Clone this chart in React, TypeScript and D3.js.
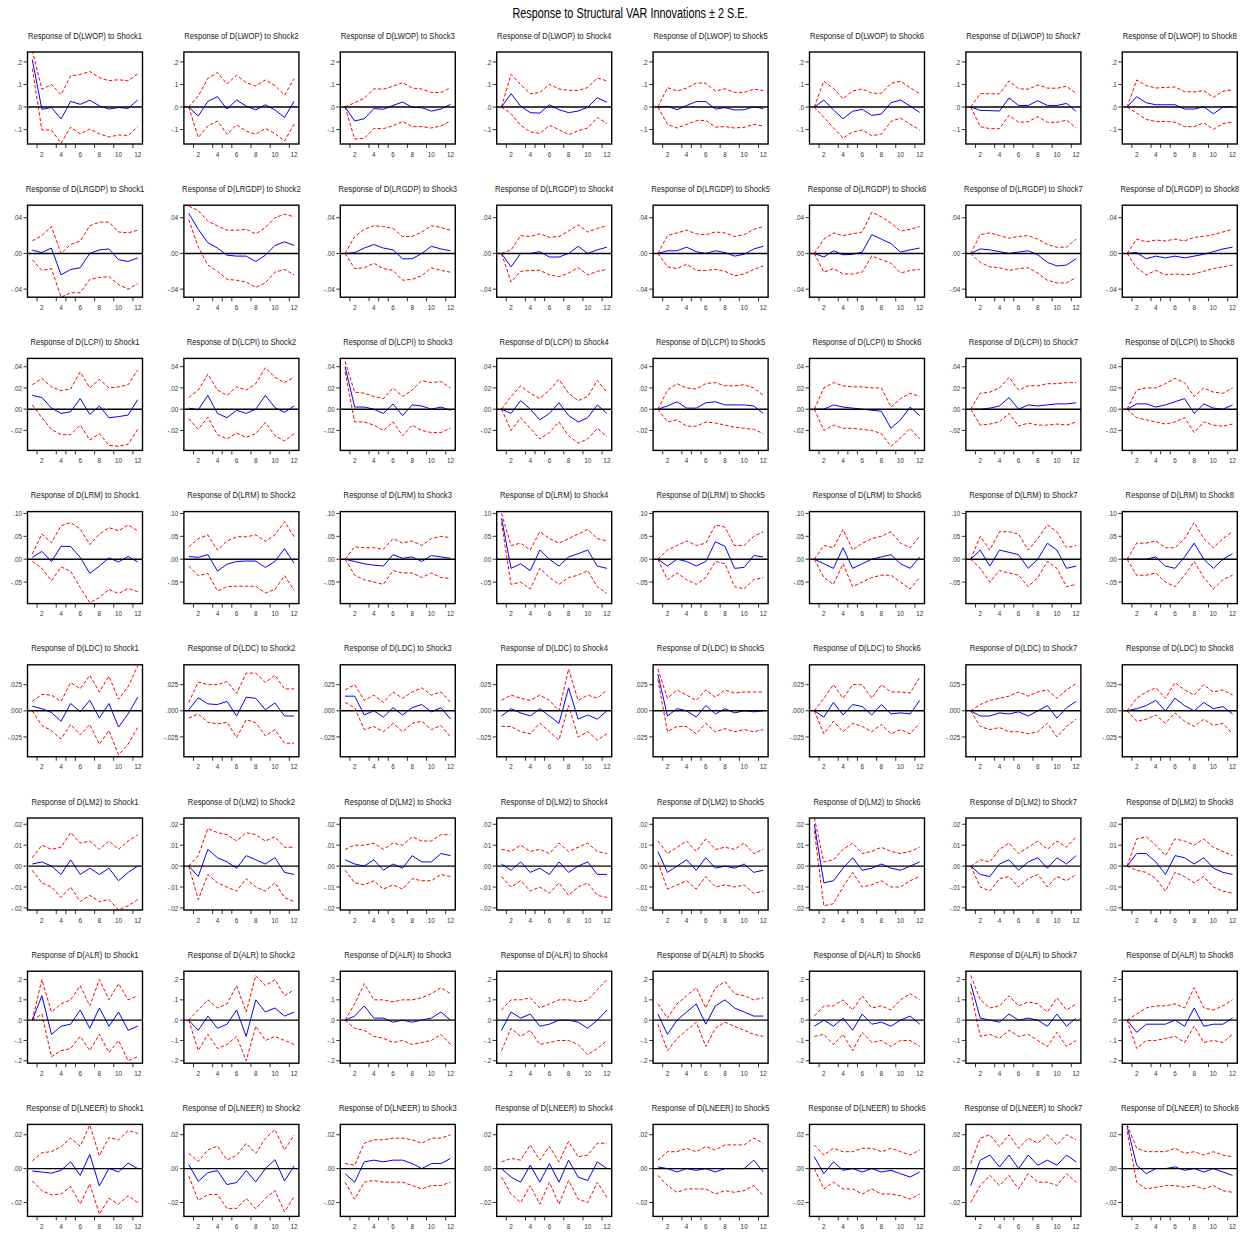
import React from "react";
import * as d3 from "d3";

// impulse response horizons and labels
const periods = [1, 2, 3, 4, 5, 6, 7, 8, 9, 10, 11, 12];
const xTickLabels = [2, 4, 6, 8, 10, 12];
const xMinorTicks = [1.5, 3.5, 4.5, 5.5, 7.5, 9.5, 11.5];
const shocks = ["Shock1", "Shock2", "Shock3", "Shock4", "Shock5", "Shock6", "Shock7", "Shock8"];
const variables = ["LWOP", "LRGDP", "LCPI", "LRM", "LDC", "LM2", "ALR", "LNEER"];

// y tick values per response variable
const lwopTicks = [-0.1, 0, 0.1, 0.2];
const lrgdpTicks = [-0.04, 0, 0.04];
const lcpiTicks = [-0.02, 0, 0.02, 0.04];
const lrmTicks = [-0.05, 0, 0.05, 0.1];
const ldcTicks = [-0.025, 0, 0.025];
const lm2Ticks = [-0.02, -0.01, 0, 0.01, 0.02];
const alrTicks = [-0.2, -0.1, 0, 0.1, 0.2];
const lneerTicks = [-0.02, 0, 0.02];

// responses (one row per shock), upper and lower 2 S.E. bands
const lwopMid = [
  [0.21, -0.01, -0.002, -0.053, 0.025, 0.012, 0.03, 0.005, -0.009, -0.002, -0.006, 0.031],
  [0, -0.04, 0.025, 0.046, -0.009, 0.031, 0.004, -0.013, 0.01, -0.013, -0.046, 0.025],
  [0, -0.062, -0.052, -0.007, -0.01, 0.007, 0.022, -0.001, -0.003, -0.018, -0.009, 0.012],
  [0, 0.059, 0.004, -0.025, -0.027, 0.01, -0.012, -0.025, -0.018, -0.001, 0.041, 0.021],
  [0, 0.003, -0.012, 0.007, 0.024, 0.024, -0.009, -0.003, -0.013, -0.012, 0.001, -0.007],
  [0, 0.031, -0.013, -0.052, -0.019, -0.01, -0.037, -0.031, 0.019, 0.031, 0.004, -0.024],
  [0, -0.015, -0.016, -0.018, 0.04, 0.007, 0.007, 0.028, 0.007, 0.007, 0.016, -0.019],
  [0, 0.046, 0.019, 0.01, 0.01, 0.01, -0.009, -0.009, 0.001, -0.03, -0.001, 0.003],
];
const lwopHi = [
  [0.25, 0.079, 0.1, 0.055, 0.138, 0.144, 0.158, 0.13, 0.117, 0.121, 0.116, 0.147],
  [0, 0.049, 0.127, 0.153, 0.102, 0.141, 0.108, 0.093, 0.12, 0.095, 0.053, 0.126],
  [0, 0.019, 0.039, 0.081, 0.079, 0.092, 0.108, 0.084, 0.08, 0.065, 0.064, 0.086],
  [0, 0.145, 0.099, 0.059, 0.064, 0.101, 0.08, 0.074, 0.074, 0.086, 0.129, 0.116],
  [0, 0.086, 0.071, 0.084, 0.107, 0.105, 0.071, 0.081, 0.065, 0.065, 0.079, 0.073],
  [0, 0.114, 0.083, 0.037, 0.071, 0.08, 0.061, 0.061, 0.105, 0.114, 0.086, 0.058],
  [0, 0.059, 0.059, 0.058, 0.116, 0.081, 0.079, 0.098, 0.084, 0.083, 0.092, 0.061],
  [0, 0.12, 0.095, 0.084, 0.087, 0.089, 0.068, 0.067, 0.073, 0.043, 0.07, 0.076],
];
const lwopLo = [
  [0.17, -0.102, -0.102, -0.161, -0.089, -0.119, -0.098, -0.119, -0.133, -0.124, -0.126, -0.087],
  [0, -0.135, -0.084, -0.062, -0.121, -0.079, -0.107, -0.121, -0.095, -0.117, -0.151, -0.076],
  [0, -0.142, -0.139, -0.095, -0.096, -0.083, -0.064, -0.087, -0.087, -0.093, -0.084, -0.062],
  [0, -0.03, -0.081, -0.11, -0.117, -0.081, -0.1, -0.123, -0.105, -0.093, -0.046, -0.073],
  [0, -0.077, -0.093, -0.077, -0.061, -0.059, -0.089, -0.087, -0.093, -0.09, -0.077, -0.084],
  [0, -0.046, -0.092, -0.138, -0.111, -0.102, -0.127, -0.12, -0.064, -0.049, -0.076, -0.102],
  [0, -0.087, -0.096, -0.096, -0.037, -0.068, -0.065, -0.043, -0.068, -0.068, -0.058, -0.093],
  [0, -0.027, -0.055, -0.064, -0.064, -0.067, -0.087, -0.087, -0.07, -0.099, -0.073, -0.067],
];

const lrgdpMid = [
  [0.0037, 0.001, 0.006, -0.024, -0.018, -0.016, 0.0, 0.004, 0.005, -0.007, -0.009, -0.005],
  [0.045, 0.027, 0.012, 0.006, -0.002, -0.003, -0.003, -0.009, -0.002, 0.009, 0.013, 0.009],
  [0, 0.001, 0.006, 0.01, 0.006, 0.004, -0.006, -0.006, 0.0, 0.008, 0.005, 0.003],
  [0, -0.015, 0, 0, 0.002, -0.004, -0.004, 0, 0.008, 0, 0.004, 0.007],
  [0, 0.003, 0.003, 0.007, 0.002, 0.0, 0.003, 0.001, -0.003, -0.001, 0.005, 0.008],
  [0, -0.004, 0.003, -0.0015, -0.001, 0.0015, 0.021, 0.016, 0.011, 0.0015, 0.004, 0.006],
  [0, 0.005, 0.004, 0.002, 0, 0.0015, 0.003, -0.0015, -0.01, -0.014, -0.013, -0.006],
  [0, 0.001, -0.006, -0.003, -0.005, -0.003, -0.005, -0.003, -0.001, 0.002, 0.005, 0.007],
];
const lrgdpHi = [
  [0.014, 0.02, 0.03, 0.0, 0.01, 0.014, 0.031, 0.035, 0.035, 0.024, 0.023, 0.026],
  [0.053, 0.048, 0.036, 0.031, 0.026, 0.026, 0.027, 0.022, 0.029, 0.04, 0.044, 0.041],
  [0, 0.019, 0.027, 0.031, 0.03, 0.028, 0.019, 0.019, 0.024, 0.031, 0.029, 0.026],
  [0, 0.004, 0.02, 0.019, 0.022, 0.018, 0.019, 0.025, 0.032, 0.024, 0.028, 0.031],
  [0, 0.02, 0.023, 0.026, 0.022, 0.021, 0.024, 0.023, 0.019, 0.021, 0.027, 0.03],
  [0, 0.016, 0.023, 0.02, 0.022, 0.024, 0.046, 0.041, 0.034, 0.025, 0.027, 0.03],
  [0, 0.021, 0.023, 0.02, 0.017, 0.019, 0.02, 0.016, 0.01, 0.007, 0.007, 0.016],
  [0, 0.016, 0.013, 0.015, 0.014, 0.016, 0.014, 0.018, 0.019, 0.021, 0.024, 0.027],
];
const lrgdpLo = [
  [-0.007, -0.019, -0.017, -0.049, -0.044, -0.044, -0.029, -0.027, -0.026, -0.035, -0.04, -0.034],
  [0.038, 0.007, -0.013, -0.02, -0.029, -0.03, -0.032, -0.038, -0.033, -0.021, -0.018, -0.024],
  [0, -0.017, -0.016, -0.011, -0.017, -0.019, -0.03, -0.029, -0.025, -0.016, -0.019, -0.021],
  [0, -0.032, -0.02, -0.019, -0.019, -0.024, -0.026, -0.022, -0.016, -0.024, -0.02, -0.018],
  [0, -0.015, -0.017, -0.012, -0.019, -0.019, -0.018, -0.02, -0.025, -0.023, -0.018, -0.014],
  [0, -0.021, -0.017, -0.023, -0.023, -0.021, -0.003, -0.007, -0.011, -0.022, -0.019, -0.018],
  [0, -0.01, -0.015, -0.016, -0.019, -0.017, -0.016, -0.022, -0.03, -0.033, -0.033, -0.027],
  [0, -0.016, -0.024, -0.019, -0.024, -0.023, -0.024, -0.023, -0.02, -0.017, -0.015, -0.013],
];

const lcpiMid = [
  [0.013, 0.011, 0.001, -0.004, -0.0025, 0.01, -0.005, 0.003, -0.008, -0.007, -0.0055, 0.009],
  [0.001, -0.0006, 0.013, -0.004, -0.008, -0.001, -0.004, 0, 0.013, 0.0015, -0.003, 0.003],
  [0.04, 0.002, 0.002, 0.0, -0.004, 0.005, -0.006, 0.004, 0.003, 0.0, 0.002, -0.001],
  [0, -0.004, 0.008, 0.0, -0.01, -0.004, 0.006, -0.006, -0.012, -0.008, 0.004, -0.004],
  [0, 0.003, 0.007, 0.001, 0.001, 0.006, 0.007, 0.004, 0.004, 0.004, 0.003, -0.004],
  [0, 0.0, 0.004, 0.002, 0.001, 0.0, -0.001, -0.002, -0.018, -0.01, 0.002, -0.006],
  [0, 0.0, 0.001, 0.003, 0.011, 0.0, 0.004, 0.003, 0.004, 0.005, 0.005, 0.006],
  [0, 0.005, 0.005, 0.002, 0.004, 0.007, 0.01, -0.004, 0.005, 0.001, 0.0, 0.004],
];
const lcpiHi = [
  [0.023, 0.029, 0.021, 0.0175, 0.019, 0.035, 0.02, 0.028, 0.02, 0.021, 0.023, 0.037],
  [0.011, 0.018, 0.033, 0.018, 0.013, 0.021, 0.018, 0.024, 0.039, 0.03, 0.025, 0.03],
  [0.045, 0.016, 0.015, 0.012, 0.01, 0.02, 0.012, 0.018, 0.027, 0.025, 0.026, 0.02],
  [0, 0.012, 0.022, 0.015, 0.01, 0.018, 0.028, 0.015, 0.008, 0.012, 0.027, 0.016],
  [0, 0.018, 0.024, 0.02, 0.019, 0.024, 0.025, 0.022, 0.022, 0.023, 0.02, 0.013],
  [0, 0.02, 0.025, 0.022, 0.021, 0.021, 0.02, 0.02, 0.002, 0.01, 0.015, 0.012],
  [0, 0.015, 0.016, 0.02, 0.03, 0.018, 0.022, 0.022, 0.024, 0.024, 0.025, 0.025],
  [0, 0.018, 0.02, 0.02, 0.024, 0.029, 0.025, 0.012, 0.02, 0.016, 0.015, 0.02],
];
const lcpiLo = [
  [0.004, -0.008, -0.019, -0.024, -0.024, -0.015, -0.029, -0.023, -0.034, -0.035, -0.033, -0.019],
  [-0.009, -0.019, -0.0075, -0.024, -0.028, -0.0225, -0.0265, -0.023, -0.0125, -0.025, -0.03, -0.023],
  [0.035, -0.012, -0.012, -0.015, -0.02, -0.012, -0.025, -0.015, -0.02, -0.022, -0.022, -0.018],
  [0, -0.02, -0.008, -0.018, -0.028, -0.022, -0.012, -0.025, -0.032, -0.028, -0.018, -0.026],
  [0, -0.012, -0.01, -0.016, -0.016, -0.012, -0.013, -0.015, -0.017, -0.018, -0.019, -0.023],
  [0, -0.02, -0.015, -0.018, -0.018, -0.019, -0.02, -0.023, -0.035, -0.027, -0.018, -0.028],
  [0, -0.015, -0.014, -0.012, -0.004, -0.016, -0.013, -0.015, -0.015, -0.014, -0.015, -0.012],
  [0, -0.008, -0.01, -0.012, -0.014, -0.012, -0.008, -0.022, -0.012, -0.015, -0.016, -0.014],
];

const lrmMid = [
  [0.004, 0.017, -0.005, 0.028, 0.028, 0.004, -0.031, -0.015, 0.003, -0.006, 0.006, -0.006],
  [0.006, 0.004, 0.01, -0.026, -0.011, -0.005, -0.004, -0.004, -0.018, -0.005, 0.023, -0.009],
  [0, -0.005, -0.01, -0.013, -0.015, 0.01, 0.002, 0.005, -0.005, 0.008, 0.005, 0.002],
  [0.09, -0.02, -0.01, -0.025, 0.02, 0.0, -0.015, 0.005, 0.012, 0.02, -0.015, -0.02],
  [0, -0.015, 0.0, -0.005, -0.015, -0.005, 0.038, 0.028, -0.02, -0.018, 0.008, 0.005],
  [0, -0.01, -0.02, 0.025, -0.02, -0.01, 0.0, 0.005, 0.01, -0.01, -0.02, 0.005],
  [0, 0.02, -0.015, 0.02, 0.015, 0.01, -0.02, 0.0, 0.035, 0.02, -0.02, -0.015],
  [0, 0.0, 0.0, 0.005, -0.015, -0.02, 0.005, 0.035, 0.0, -0.02, 0.0, 0.012],
];
const lrmHi = [
  [0.011, 0.055, 0.036, 0.073, 0.08, 0.066, 0.032, 0.055, 0.069, 0.062, 0.075, 0.062],
  [0.027, 0.045, 0.053, 0.02, 0.04, 0.049, 0.049, 0.053, 0.039, 0.053, 0.082, 0.049],
  [0, 0.027, 0.025, 0.025, 0.022, 0.045, 0.035, 0.04, 0.03, 0.045, 0.05, 0.047],
  [0.1, 0.03, 0.035, 0.02, 0.06, 0.045, 0.035, 0.045, 0.055, 0.065, 0.045, 0.04],
  [0, 0.02, 0.03, 0.04, 0.03, 0.035, 0.075, 0.07, 0.03, 0.03, 0.05, 0.06],
  [0, 0.03, 0.025, 0.065, 0.02, 0.035, 0.045, 0.05, 0.06, 0.035, 0.025, 0.05],
  [0, 0.05, 0.02, 0.06, 0.06, 0.055, 0.02, 0.045, 0.075, 0.06, 0.025, 0.03],
  [0, 0.035, 0.035, 0.04, 0.025, 0.025, 0.045, 0.08, 0.045, 0.025, 0.045, 0.06],
];
const lrmLo = [
  [-0.005, -0.02, -0.047, -0.017, -0.026, -0.062, -0.095, -0.084, -0.066, -0.075, -0.064, -0.071],
  [-0.015, -0.036, -0.031, -0.069, -0.06, -0.059, -0.059, -0.059, -0.074, -0.066, -0.036, -0.068],
  [0, -0.035, -0.045, -0.05, -0.055, -0.025, -0.03, -0.03, -0.04, -0.03, -0.04, -0.042],
  [0.08, -0.055, -0.05, -0.065, -0.02, -0.04, -0.055, -0.04, -0.035, -0.025, -0.06, -0.075],
  [0, -0.045, -0.03, -0.045, -0.055, -0.04, -0.005, -0.01, -0.06, -0.065, -0.045, -0.04],
  [0, -0.04, -0.055, -0.01, -0.06, -0.05, -0.04, -0.035, -0.035, -0.05, -0.065, -0.04],
  [0, -0.02, -0.05, -0.025, -0.03, -0.035, -0.06, -0.04, -0.005, -0.02, -0.06, -0.055],
  [0, -0.035, -0.035, -0.03, -0.05, -0.06, -0.035, -0.005, -0.04, -0.065, -0.045, -0.035],
];

const ldcMid = [
  [0.0044, 0.002, -0.0016, -0.01, 0.007, -0.001, 0.01, -0.007, 0.007, -0.0156, -0.003, 0.013],
  [0.001, 0.0125, 0.0066, 0.006, 0.009, -0.005, 0.013, 0.012, 0.001, 0.0075, -0.005, -0.005],
  [0.014, 0.014, -0.004, 0.0, -0.006, 0.003, -0.004, 0.003, 0.006, -0.001, 0.003, -0.008],
  [-0.005, 0.002, -0.002, -0.005, 0.002, -0.005, -0.012, 0.022, -0.008, -0.004, -0.008, 0.0],
  [0.035, -0.005, 0.002, 0.0, -0.006, 0.005, -0.003, 0.002, -0.002, 0.0, -0.001, 0.0],
  [0, -0.006, 0.008, -0.004, 0.006, 0.004, -0.004, 0.006, -0.003, -0.002, -0.003, 0.01],
  [0, -0.005, -0.005, -0.002, -0.003, -0.001, -0.005, 0.0, 0.005, -0.007, 0.003, 0.009],
  [0, 0.002, 0.005, 0.01, 0.0, 0.012, 0.005, 0.0, 0.008, 0.002, 0.004, -0.003],
];
const ldcHi = [
  [0.009, 0.0156, 0.015, 0.009, 0.027, 0.021, 0.034, 0.018, 0.033, 0.011, 0.023, 0.043],
  [0.008, 0.0275, 0.025, 0.025, 0.028, 0.0165, 0.036, 0.036, 0.027, 0.034, 0.021, 0.021],
  [0.02, 0.025, 0.01, 0.015, 0.008, 0.018, 0.012, 0.018, 0.022, 0.015, 0.018, 0.008],
  [0.01, 0.015, 0.012, 0.01, 0.015, 0.01, 0.0, 0.04, 0.01, 0.015, 0.012, 0.02],
  [0.04, 0.012, 0.02, 0.015, 0.01, 0.02, 0.013, 0.02, 0.017, 0.018, 0.018, 0.018],
  [0, 0.012, 0.025, 0.012, 0.025, 0.025, 0.012, 0.025, 0.018, 0.018, 0.017, 0.032],
  [0, 0.006, 0.01, 0.012, 0.014, 0.018, 0.014, 0.018, 0.02, 0.012, 0.02, 0.026],
  [0, 0.012, 0.018, 0.022, 0.012, 0.027, 0.02, 0.015, 0.025, 0.018, 0.02, 0.015],
];
const ldcLo = [
  [0, -0.014, -0.019, -0.027, -0.013, -0.023, -0.013, -0.032, -0.019, -0.042, -0.032, -0.016],
  [-0.007, -0.003, -0.011, -0.0125, -0.011, -0.0256, -0.0085, -0.0115, -0.024, -0.018, -0.031, -0.031],
  [0.008, 0.003, -0.018, -0.015, -0.02, -0.012, -0.02, -0.012, -0.01, -0.018, -0.014, -0.025],
  [-0.015, -0.015, -0.02, -0.022, -0.012, -0.02, -0.028, 0.005, -0.025, -0.02, -0.028, -0.022],
  [0.03, -0.02, -0.015, -0.015, -0.022, -0.012, -0.02, -0.017, -0.02, -0.018, -0.02, -0.018],
  [0, -0.022, -0.01, -0.02, -0.012, -0.015, -0.02, -0.013, -0.022, -0.018, -0.022, -0.012],
  [0, -0.015, -0.018, -0.016, -0.02, -0.02, -0.022, -0.02, -0.012, -0.025, -0.015, -0.008],
  [0, -0.01, -0.008, -0.004, -0.012, -0.002, -0.01, -0.015, -0.008, -0.014, -0.012, -0.022],
];

const lm2Mid = [
  [0.001, 0.002, 0.0, -0.004, 0.003, -0.004, -0.001, -0.004, -0.001, -0.007, -0.003, 0.0],
  [0, -0.005, 0.008, 0.004, 0.002, -0.001, 0.005, 0.003, 0.001, 0.004, -0.003, -0.004],
  [0.003, 0.001, 0.0, 0.003, -0.002, 0.001, -0.001, 0.005, 0.002, 0.002, 0.006, 0.005],
  [0.001, -0.002, 0.002, -0.003, -0.001, -0.004, 0.002, -0.003, 0.0, 0.002, -0.004, -0.004],
  [0.007, -0.003, 0.0, 0.003, -0.002, 0.004, -0.001, 0.0, -0.001, 0.001, -0.003, -0.002],
  [0.02, -0.008, -0.007, -0.001, 0.004, -0.002, -0.001, 0.001, -0.001, -0.002, 0.0, 0.002],
  [0, -0.004, -0.005, 0.001, 0.003, -0.002, 0.002, 0.004, -0.001, 0.004, 0.001, 0.005],
  [0, 0.006, 0.006, 0.002, -0.004, 0.005, 0.004, 0.001, 0.004, -0.001, -0.003, -0.004],
];
const lm2Hi = [
  [0.004, 0.01, 0.008, 0.009, 0.016, 0.011, 0.012, 0.008, 0.012, 0.008, 0.012, 0.015],
  [0, 0.005, 0.018, 0.016, 0.015, 0.012, 0.016, 0.015, 0.012, 0.014, 0.009, 0.009],
  [0.008, 0.01, 0.01, 0.011, 0.008, 0.011, 0.01, 0.014, 0.012, 0.012, 0.015, 0.015],
  [0.008, 0.007, 0.01, 0.007, 0.008, 0.006, 0.011, 0.007, 0.009, 0.011, 0.007, 0.006],
  [0.012, 0.006, 0.009, 0.012, 0.007, 0.013, 0.008, 0.009, 0.008, 0.011, 0.006, 0.008],
  [0.023, 0.002, 0.003, 0.008, 0.011, 0.006, 0.007, 0.009, 0.007, 0.006, 0.007, 0.009],
  [0, 0.003, 0.002, 0.008, 0.011, 0.006, 0.009, 0.012, 0.008, 0.012, 0.009, 0.014],
  [0, 0.013, 0.014, 0.01, 0.005, 0.013, 0.012, 0.01, 0.013, 0.009, 0.007, 0.005],
];
const lm2Lo = [
  [-0.002, -0.008, -0.01, -0.015, -0.01, -0.017, -0.014, -0.017, -0.016, -0.021, -0.019, -0.016],
  [0, -0.016, -0.004, -0.008, -0.01, -0.012, -0.006, -0.01, -0.012, -0.008, -0.015, -0.017],
  [-0.002, -0.008, -0.009, -0.007, -0.011, -0.009, -0.011, -0.006, -0.007, -0.007, -0.004, -0.005],
  [-0.005, -0.01, -0.007, -0.012, -0.01, -0.013, -0.008, -0.014, -0.01, -0.008, -0.014, -0.015],
  [0.002, -0.011, -0.009, -0.007, -0.011, -0.005, -0.01, -0.009, -0.01, -0.009, -0.013, -0.012],
  [0.017, -0.019, -0.018, -0.01, -0.003, -0.01, -0.009, -0.007, -0.01, -0.01, -0.007, -0.005],
  [0, -0.01, -0.012, -0.006, -0.005, -0.01, -0.006, -0.004, -0.01, -0.005, -0.007, -0.004],
  [0, -0.002, -0.003, -0.006, -0.012, -0.003, -0.005, -0.008, -0.005, -0.01, -0.012, -0.013],
];

const alrMid = [
  [0, 0.12, -0.07, -0.03, -0.02, 0.05, -0.04, 0.06, -0.03, 0.04, -0.05, -0.03],
  [0, -0.05, 0.02, -0.04, -0.02, 0.05, -0.08, 0.1, 0.04, 0.06, 0.02, 0.04],
  [0, 0.02, 0.07, 0.01, 0.01, -0.01, 0.0, -0.01, 0.0, 0.01, 0.04, 0.0],
  [-0.05, 0.04, 0.01, 0.03, -0.03, -0.02, 0.0, 0.0, -0.01, -0.04, 0.0, 0.05],
  [0.03, -0.07, 0.0, 0.04, 0.08, -0.02, 0.07, 0.1, 0.06, 0.04, 0.02, 0.02],
  [-0.03, 0.0, -0.03, 0.01, -0.05, 0.03, -0.02, -0.01, -0.03, 0.0, 0.02, -0.02],
  [0.18, 0.01, 0.0, -0.01, 0.03, 0.0, 0.01, 0.0, -0.03, 0.03, -0.03, 0.01],
  [0, -0.06, -0.02, -0.02, -0.02, 0.0, -0.03, 0.06, -0.03, -0.02, -0.02, 0.01],
];
const alrHi = [
  [0, 0.2, 0.04, 0.08, 0.1, 0.17, 0.07, 0.2, 0.1, 0.18, 0.1, 0.12],
  [0, 0.05, 0.1, 0.06, 0.08, 0.17, 0.04, 0.22, 0.17, 0.2, 0.12, 0.15],
  [0, 0.08, 0.18, 0.1, 0.1, 0.09, 0.1, 0.1, 0.11, 0.13, 0.16, 0.13],
  [0.05, 0.1, 0.1, 0.11, 0.06, 0.08, 0.1, 0.1, 0.09, 0.1, 0.15, 0.2],
  [0.08, 0.01, 0.08, 0.12, 0.16, 0.06, 0.16, 0.19, 0.13, 0.12, 0.1, 0.11],
  [0.02, 0.07, 0.07, 0.1, 0.05, 0.12, 0.06, 0.07, 0.05, 0.1, 0.13, 0.1],
  [0.22, 0.1, 0.06, 0.07, 0.12, 0.07, 0.09, 0.08, 0.04, 0.11, 0.05, 0.08],
  [0, 0.03, 0.06, 0.07, 0.07, 0.08, 0.06, 0.16, 0.06, 0.05, 0.07, 0.1],
];
const alrLo = [
  [0, 0.03, -0.18, -0.15, -0.14, -0.08, -0.15, -0.07, -0.16, -0.1, -0.2, -0.18],
  [0, -0.15, -0.07, -0.14, -0.12, -0.08, -0.2, -0.03, -0.1, -0.08, -0.1, -0.12],
  [0, -0.04, -0.05, -0.08, -0.09, -0.11, -0.1, -0.12, -0.11, -0.1, -0.07, -0.12],
  [-0.15, -0.04, -0.08, -0.05, -0.12, -0.11, -0.1, -0.1, -0.12, -0.17, -0.14, -0.1],
  [-0.02, -0.15, -0.09, -0.05, -0.01, -0.13, -0.04, -0.01, -0.03, -0.05, -0.07, -0.08],
  [-0.08, -0.07, -0.12, -0.07, -0.15, -0.06, -0.11, -0.1, -0.13, -0.1, -0.1, -0.13],
  [0.14, -0.08, -0.07, -0.09, -0.05, -0.08, -0.07, -0.1, -0.13, -0.06, -0.13, -0.1],
  [0, -0.14, -0.1, -0.1, -0.09, -0.08, -0.11, -0.03, -0.11, -0.1, -0.11, -0.07],
];

const lneerMid = [
  [-0.0014, -0.002, -0.0027, -0.001, 0.004, -0.004, 0.0084, -0.0102, 0.0002, -0.002, 0.0033, 0.0],
  [0.0024, -0.0075, -0.0024, -0.0012, -0.0094, -0.0082, -0.0012, -0.0078, 0.0, 0.0053, -0.0073, 0.0016],
  [-0.003, -0.008, 0.004, 0.005, 0.004, 0.005, 0.005, 0.003, 0.0, 0.003, 0.003, 0.006],
  [0.0, -0.005, -0.008, 0.002, -0.008, 0.003, -0.008, 0.005, -0.005, -0.007, 0.004, 0.0],
  [0.001, 0.0, -0.002, 0.0, -0.001, 0.0, -0.002, 0.0, 0.0, 0.0, 0.005, -0.002],
  [0.007, -0.003, 0.004, -0.001, 0.0, -0.002, 0.0, -0.002, -0.001, -0.003, -0.005, -0.002],
  [-0.01, 0.005, 0.008, 0.001, 0.008, 0.0, 0.008, 0.002, 0.005, 0.002, 0.008, 0.004],
  [0.025, 0.002, -0.003, 0.0, 0.0, 0.001, -0.001, 0.0, -0.002, 0.0, -0.002, -0.004],
];
const lneerHi = [
  [0.0045, 0.0094, 0.01, 0.013, 0.018, 0.0133, 0.0257, 0.0076, 0.0184, 0.0169, 0.0224, 0.0208],
  [0.009, 0.0043, 0.011, 0.0133, 0.0051, 0.0078, 0.0149, 0.009, 0.0178, 0.0231, 0.011, 0.0198],
  [0.003, 0.002, 0.015, 0.017, 0.017, 0.018, 0.018, 0.017, 0.015, 0.018, 0.018, 0.02],
  [0.004, 0.006, 0.005, 0.014, 0.005, 0.013, 0.004, 0.016, 0.007, 0.008, 0.015, 0.015],
  [0.005, 0.01, 0.01, 0.012, 0.01, 0.013, 0.011, 0.014, 0.014, 0.014, 0.018, 0.015],
  [0.014, 0.008, 0.012, 0.01, 0.01, 0.012, 0.012, 0.01, 0.012, 0.01, 0.008, 0.011],
  [0.003, 0.018, 0.02, 0.013, 0.02, 0.012, 0.018, 0.015, 0.02, 0.014, 0.02, 0.017],
  [0.026, 0.012, 0.01, 0.01, 0.01, 0.012, 0.009, 0.01, 0.008, 0.01, 0.008, 0.007],
];
const lneerLo = [
  [-0.0073, -0.013, -0.0155, -0.015, -0.0106, -0.0208, -0.009, -0.0269, -0.0175, -0.021, -0.016, -0.02],
  [-0.0043, -0.0188, -0.0153, -0.0153, -0.0235, -0.0235, -0.0175, -0.0237, -0.0175, -0.013, -0.0255, -0.0165],
  [-0.008, -0.018, -0.008, -0.007, -0.008, -0.008, -0.008, -0.01, -0.012, -0.01, -0.01, -0.008],
  [-0.005, -0.015, -0.02, -0.01, -0.021, -0.008, -0.021, -0.007, -0.018, -0.02, -0.008, -0.017],
  [-0.004, -0.01, -0.014, -0.012, -0.012, -0.012, -0.015, -0.013, -0.014, -0.013, -0.01, -0.016],
  [0.0, -0.012, -0.008, -0.012, -0.012, -0.015, -0.012, -0.015, -0.015, -0.016, -0.018, -0.015],
  [-0.02, -0.01, -0.004, -0.01, -0.004, -0.012, -0.003, -0.008, -0.008, -0.01, -0.003, -0.008],
  [0.022, -0.008, -0.012, -0.011, -0.01, -0.01, -0.011, -0.01, -0.012, -0.01, -0.013, -0.014],
];

const rows = [
  { mid: lwopMid, hi: lwopHi, lo: lwopLo, ticks: lwopTicks, dec: 1, domain: [-0.164, 0.244] },
  { mid: lrgdpMid, hi: lrgdpHi, lo: lrgdpLo, ticks: lrgdpTicks, dec: 2, domain: [-0.049, 0.054] },
  { mid: lcpiMid, hi: lcpiHi, lo: lcpiLo, ticks: lcpiTicks, dec: 2, domain: [-0.0388, 0.0478] },
  { mid: lrmMid, hi: lrmHi, lo: lrmLo, ticks: lrmTicks, dec: 2, domain: [-0.097, 0.104] },
  { mid: ldcMid, hi: ldcHi, lo: ldcLo, ticks: ldcTicks, dec: 3, domain: [-0.044, 0.044] },
  { mid: lm2Mid, hi: lm2Hi, lo: lm2Lo, ticks: lm2Ticks, dec: 2, domain: [-0.021, 0.023] },
  { mid: alrMid, hi: alrHi, lo: alrLo, ticks: alrTicks, dec: 1, domain: [-0.212, 0.241] },
  { mid: lneerMid, hi: lneerHi, lo: lneerLo, ticks: lneerTicks, dec: 2, domain: [-0.0282, 0.0261] },
];

const WIDTH = 1256;
const HEIGHT = 1233;
const PW = 115; // plot frame width
const PH = 92; // plot frame height
const LEFT0 = 27.5;
const TOP0 = 52;
const COL_STEP = 156.4;
const ROW_STEP = 153.2;
const FONT = "'Liberation Sans', Arial, sans-serif";
const NARROW = 0.8; // horizontal squeeze to mimic a condensed face

// EViews style: drop the leading zero (.2, -.05, .000)
const fmt = (v: number, dec: number) => v.toFixed(dec).replace(/^(-?)0\./, "$1.");

const Panel = ({ row, col }: { row: number; col: number }) => {
  const cfg = rows[row];
  const x = d3.scaleLinear().domain([0.5, 12.5]).range([0, PW]);
  const y = d3.scaleLinear().domain(cfg.domain).range([PH, 0]);
  const line = d3
    .line<number>()
    .x((_, i) => x(periods[i]))
    .y((d) => y(d));
  const tx = LEFT0 + col * COL_STEP;
  const ty = TOP0 + row * ROW_STEP;

  return (
    <g transform={`translate(${tx},${ty})`}>
      <text
        transform={`translate(${PW / 2},-13.5) scale(${NARROW},1)`}
        textAnchor="middle"
        fontSize={9.6}
        fill="#222"
      >
        {`Response of D(${variables[row]}) to ${shocks[col]}`}
      </text>
      <g clipPath="url(#plotclip)">
        <path d={line(cfg.hi[col]) || ""} fill="none" stroke="#ff0000" strokeWidth={1} strokeDasharray="3.5,2" />
        <path d={line(cfg.lo[col]) || ""} fill="none" stroke="#ff0000" strokeWidth={1} strokeDasharray="3.5,2" />
        <path d={line(cfg.mid[col]) || ""} fill="none" stroke="#0000ff" strokeWidth={1} />
      </g>
      <line x1={0} x2={PW} y1={y(0)} y2={y(0)} stroke="#000" strokeWidth={1.4} />
      <rect x={0} y={0} width={PW} height={PH} fill="none" stroke="#000" strokeWidth={1.4} />
      {cfg.ticks.map((t) => (
        <g key={t} transform={`translate(0,${y(t)})`}>
          <line x1={-4} x2={0} stroke="#000" strokeWidth={0.8} />
          <text transform={`translate(-5.5,0) scale(0.85,1)`} dy="0.35em" textAnchor="end" fontSize={7.5} fill="#333">
            {fmt(t, cfg.dec)}
          </text>
        </g>
      ))}
      {xMinorTicks.map((t) => (
        <line key={t} x1={x(t)} x2={x(t)} y1={PH} y2={PH + 4} stroke="#000" strokeWidth={0.8} />
      ))}
      {xTickLabels.map((t) => (
        <text
          key={t}
          transform={`translate(${x(t)},${PH + 12.5}) scale(0.85,1)`}
          textAnchor="middle"
          fontSize={7.5}
          fill="#333"
        >
          {t}
        </text>
      ))}
    </g>
  );
};

export default function App() {
  return (
    <svg
      width={WIDTH}
      height={HEIGHT}
      style={{ position: "absolute", left: 0, top: 0, background: "#fff" }}
      fontFamily={FONT}
    >
      <defs>
        <clipPath id="plotclip">
          <rect x={0} y={0} width={PW} height={PH} />
        </clipPath>
      </defs>
      <rect width={WIDTH} height={HEIGHT} fill="#fff" />
      <text transform="translate(630,17.5) scale(0.75,1)" textAnchor="middle" fontSize={14.5} fill="#000">
        Response to Structural VAR Innovations ± 2 S.E.
      </text>
      {rows.map((_, r) => shocks.map((__, c) => <Panel key={`${r}-${c}`} row={r} col={c} />))}
    </svg>
  );
}
